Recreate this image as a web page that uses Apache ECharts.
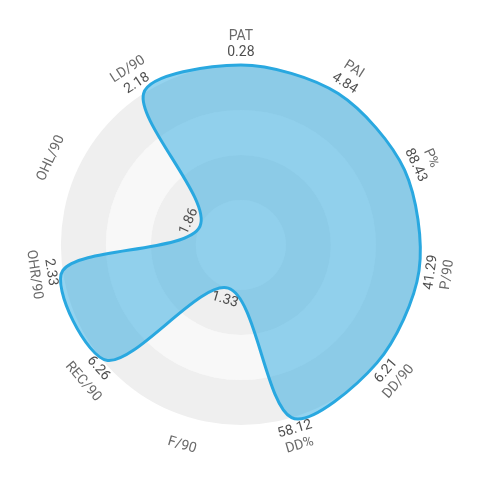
<!DOCTYPE html>
<html>
<head>
<meta charset="utf-8">
<script src="https://cdn.jsdelivr.net/npm/echarts@6/dist/echarts.min.js"></script>
<style>
html,body{margin:0;padding:0;background:#fff;}
#chart{width:477px;height:490px;}
</style>
</head>
<body>
<div id="chart"></div>
<script>
// Indicators, clockwise from the top
var indicators = ['PAT', 'PAI', 'P%', 'P/90', 'DD/90', 'DD%', 'F/90', 'REC/90', 'OHR/90', 'OHL/90', 'LD/90'];
// Raw values shown as labels
var rawValues = ['0.28', '4.84', '88.43', '41.29', '6.21', '58.12', '1.33', '6.26', '2.33', '1.86', '2.18'];
// Plotted (scaled 0-100) values
var scaledValues = [100, 100, 100, 100, 100, 100, 25, 98, 100, 25, 100];

var N = indicators.length;
var R_MAX = 100;
var NAME_R = 116;      // radius (axis units) where indicator names sit
var VALUE_GAP = 6.7;   // label offset beyond the point (axis units)

function rot(i) {
  var th = i * 360 / N;
  return (th > 90 && th < 270) ? 180 - th : -th;
}

var nameData = indicators.map(function (n, i) {
  return { value: [NAME_R, i], name: n, label: { rotate: rot(i) } };
});
var valueData = rawValues.map(function (v, i) {
  return { value: [scaledValues[i] + VALUE_GAP, i], name: v, label: { rotate: rot(i) } };
});
var shapeData = scaledValues.map(function (v, i) { return [v, i]; });

var chart = echarts.init(document.getElementById('chart'), null, { renderer: 'canvas' });
chart.setOption({
  animation: false,
  backgroundColor: '#ffffff',
  polar: { center: ['50.5%', '50%'], radius: 180 },
  angleAxis: {
    type: 'value', min: 0, max: N, startAngle: 90, clockwise: true,
    axisLine: { show: false }, axisTick: { show: false }, axisLabel: { show: false },
    splitLine: { show: false }
  },
  radiusAxis: {
    type: 'value', min: 0, max: R_MAX, interval: 25,
    axisLine: { show: false }, axisTick: { show: false }, axisLabel: { show: false },
    splitLine: { show: false },
    splitArea: { show: true, areaStyle: { color: ['#f8f8f8', '#efefef'] } }
  },
  series: [
    {
      type: 'custom',
      coordinateSystem: 'polar',
      data: shapeData,
      renderItem: function (params, api) {
        if (params.dataIndex !== 0) return null;
        var pts = shapeData.map(function (d) { return api.coord(d); });
        return {
          type: 'polygon',
          shape: { points: pts, smooth: 0.3 },
          style: { fill: 'rgba(41,168,224,0.5)', stroke: '#29a8e0', lineWidth: 3 }
        };
      },
      clip: false,
      silent: true
    },
    {
      type: 'scatter',
      coordinateSystem: 'polar',
      clip: false,
      symbolSize: 0.1,
      itemStyle: { color: 'rgba(0,0,0,0)' },
      data: nameData,
      label: {
        show: true, position: 'inside', align: 'center', verticalAlign: 'middle',
        formatter: '{b}', color: '#444', fontFamily: 'Roboto', fontSize: 14
      },
      silent: true
    },
    {
      type: 'scatter',
      coordinateSystem: 'polar',
      clip: false,
      symbolSize: 0.1,
      itemStyle: { color: 'rgba(0,0,0,0)' },
      data: valueData,
      label: {
        show: true, position: 'inside', align: 'center', verticalAlign: 'middle',
        formatter: '{b}', color: '#222', fontFamily: 'Roboto', fontSize: 14
      },
      silent: true
    }
  ]
});
</script>
</body>
</html>
